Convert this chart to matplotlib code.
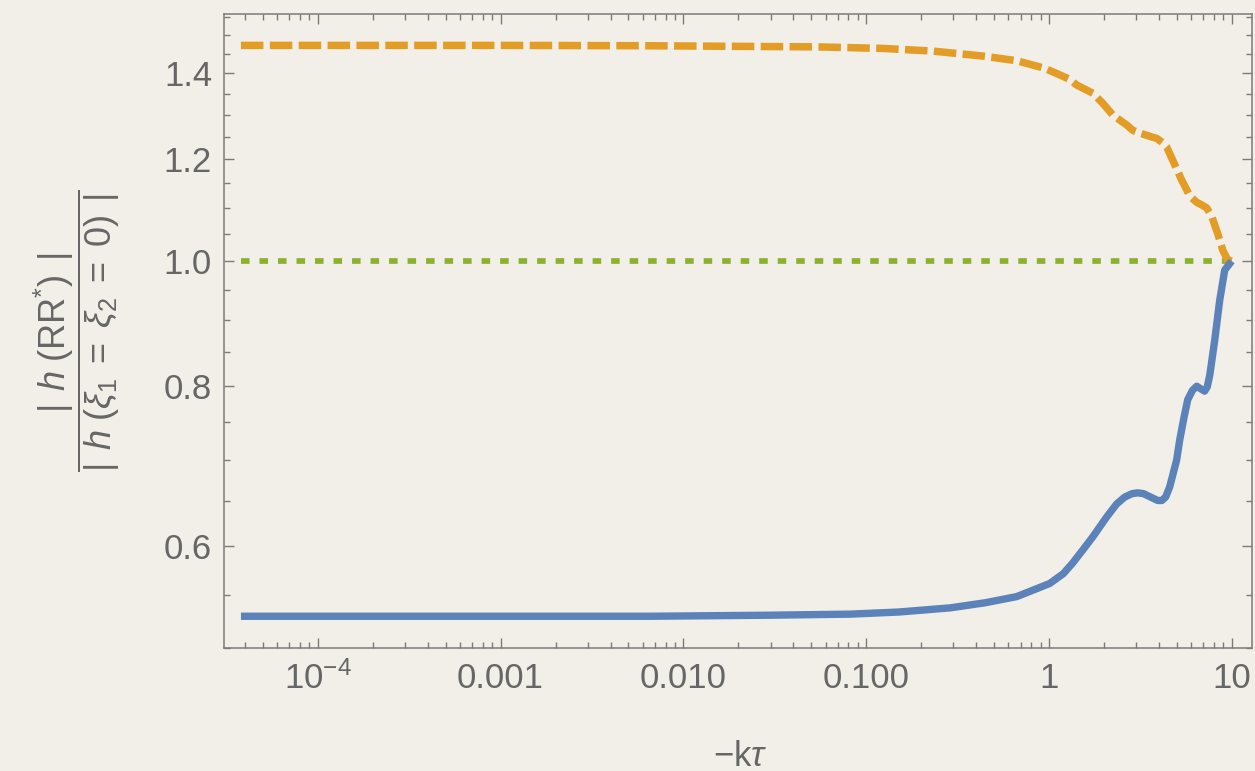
import numpy as np
import matplotlib
matplotlib.use('Agg')
import matplotlib.pyplot as plt
from matplotlib.ticker import FixedLocator, NullFormatter

# -k tau values and ratios
x_rr = [3.8e-5, 1e-3, 0.0066, 0.03, 0.0818, 0.15, 0.288, 0.45, 0.668, 1.01, 1.2, 1.35,
        1.55, 1.74, 2.07, 2.35, 2.6, 2.85, 3.06, 3.3, 3.6, 3.94, 4.15, 4.35, 4.58, 5.0,
        5.2, 5.5, 5.75, 6.1, 6.44, 6.8, 7.11, 7.35, 7.59, 8.08, 8.6, 9.16, 10.0]
y_rr = [0.529, 0.529, 0.529, 0.530, 0.531, 0.533, 0.537, 0.542, 0.548, 0.561, 0.571, 0.582,
        0.597, 0.610, 0.632, 0.647, 0.655, 0.659, 0.660, 0.659, 0.655, 0.651, 0.651, 0.655,
        0.667, 0.700, 0.726, 0.757, 0.780, 0.793, 0.799, 0.795, 0.792, 0.798, 0.815, 0.868,
        0.932, 0.984, 1.0]

x_other = [3.8e-5, 1e-3, 0.0066, 0.054, 0.124, 0.232, 0.436, 0.668, 0.928, 1.05, 1.30,
           1.42, 1.74, 1.97, 2.24, 2.67, 2.88, 3.14, 3.66, 3.89, 4.20, 4.41, 4.76, 5.33,
           5.68, 5.89, 6.44, 6.85, 7.30, 7.78, 8.38, 8.93, 9.51, 10.0]
y_other = [1.472, 1.472, 1.471, 1.468, 1.464, 1.457, 1.444, 1.432, 1.414, 1.404, 1.385,
           1.371, 1.351, 1.327, 1.299, 1.276, 1.264, 1.258, 1.249, 1.246, 1.236, 1.227,
           1.198, 1.156, 1.136, 1.124, 1.111, 1.106, 1.100, 1.083, 1.051, 1.020, 1.002, 1.0]

x_ref = [3.8e-5, 10.0]
y_ref = [1.0, 1.0]

xtick_vals = [1e-4, 1e-3, 1e-2, 1e-1, 1, 10]
xtick_labels = [r'$10^{-4}$', '0.001', '0.010', '0.100', '1', '10']
ytick_vals = [0.6, 0.8, 1.0, 1.2, 1.4]
ytick_labels = ['0.6', '0.8', '1.0', '1.2', '1.4']

plt.rcParams['font.family'] = ['Liberation Sans', 'DejaVu Sans']
plt.rcParams['mathtext.fontset'] = 'custom'
plt.rcParams['mathtext.rm'] = 'Liberation Sans'
plt.rcParams['mathtext.it'] = 'Liberation Sans:italic'
plt.rcParams['mathtext.bf'] = 'Liberation Sans:bold'
plt.rcParams['mathtext.sf'] = 'Liberation Sans'

bg = '#F2EFE9'
axcol = '#7a7a7a'
txtcol = '#666666'

fig = plt.figure(figsize=(12.55, 7.71), dpi=100, facecolor=bg)
ax = fig.add_axes([0.17849, 0.15992, 0.81888, 0.82231])
ax.set_facecolor(bg)

ax.plot(x_ref, y_ref, color='#8DB031', lw=4.1, dashes=(1.5, 1.75), dash_capstyle='butt')
ax.plot(x_other, y_other, color='#E39D26', lw=5.4, dashes=(3.0, 0.85), dash_capstyle='butt',
        dash_joinstyle='round')
ax.plot(x_rr, y_rr, color='#5B82B9', lw=5.3, solid_joinstyle='round', solid_capstyle='butt')

ax.set_xscale('log')
ax.set_yscale('log')
ax.set_xlim(3.07e-5, 12.87)
ax.set_ylim(0.5, 1.558)

ax.xaxis.set_major_locator(FixedLocator(xtick_vals))
ax.set_xticklabels(xtick_labels)
minor_x = [m * 10.0**e for e in range(-5, 2) for m in range(2, 10)]
ax.xaxis.set_minor_locator(FixedLocator(minor_x))
ax.xaxis.set_minor_formatter(NullFormatter())

ax.yaxis.set_major_locator(FixedLocator(ytick_vals))
ax.set_yticklabels(ytick_labels)
minor_y = [v for v in np.round(np.arange(0.5, 1.56, 0.05), 2) if v not in ytick_vals]
ax.yaxis.set_minor_locator(FixedLocator(minor_y))
ax.yaxis.set_minor_formatter(NullFormatter())

for s in ax.spines.values():
    s.set_color(axcol)
    s.set_linewidth(1.1)
ax.tick_params(which='both', direction='in', top=True, right=True, color=axcol,
               width=1.0, labelcolor=txtcol, labelsize=25)
ax.tick_params(which='major', length=7.5)
ax.tick_params(which='minor', length=4.5)
ax.tick_params(axis='y', pad=8.6)
ax.tick_params(axis='x', pad=10)

ax.set_xlabel(r'$-$k$\tau$', fontsize=25, color=txtcol)
ax.xaxis.set_label_coords(0.502, -0.146)
ax.set_ylabel(r'$\dfrac{|\;\,h\;(\mathrm{RR}^{*})\;\,|}{|\;\,h\;(\xi_1\;=\;\xi_2\;=\;0)\;\,|}$',
              fontsize=26, color=txtcol)
ax.yaxis.set_label_coords(-0.099, 0.5)

fig.savefig('out.png', dpi=100, facecolor=bg)
